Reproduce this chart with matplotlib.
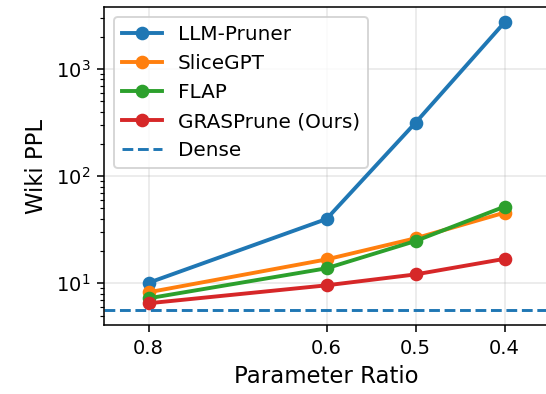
import matplotlib
matplotlib.use("Agg")
import matplotlib.pyplot as plt

ratios = [0.8, 0.6, 0.5, 0.4]
tick_labels = ["0.8", "0.6", "0.5", "0.4"]
llm_pruner = [10.1, 39.8, 315, 2720]
slicegpt = [8.24, 16.7, 26.3, 45.6]
flap = [7.24, 13.8, 24.8, 51.9]
grasprune = [6.51, 9.57, 12.1, 16.9]
dense = 5.68

dpi = 140
fig = plt.figure(figsize=(546 / dpi, 394 / dpi), dpi=dpi)
ax = fig.add_axes([104 / 546, 1 - 325 / 394, 445 / 546, 318 / 394])

ax.plot(ratios, llm_pruner, marker="o", lw=2, color="C0", label="LLM-Pruner")
ax.plot(ratios, slicegpt, marker="o", lw=2, color="C1", label="SliceGPT")
ax.plot(ratios, flap, marker="o", lw=2, color="C2", label="FLAP")
ax.plot(ratios, grasprune, marker="o", lw=2, color="C3", label="GRASPrune (Ours)")
ax.axhline(dense, linestyle="--", lw=1.5, color="C0", label="Dense")

ax.set_yscale("log")
ax.set_xlim(0.85, 0.35)
ax.set_ylim(4.08, 3790)
ax.set_xticks(ratios)
ax.set_xticklabels(tick_labels)
ax.tick_params(labelsize=10)
ax.set_xlabel("Parameter Ratio", fontsize=11.7)
ax.set_ylabel("Wiki PPL", fontsize=11.7)
ax.grid(True, which="major", alpha=0.3)
ax.legend(loc="upper left", fontsize=10.3)

fig.savefig("out.png", dpi=dpi)
